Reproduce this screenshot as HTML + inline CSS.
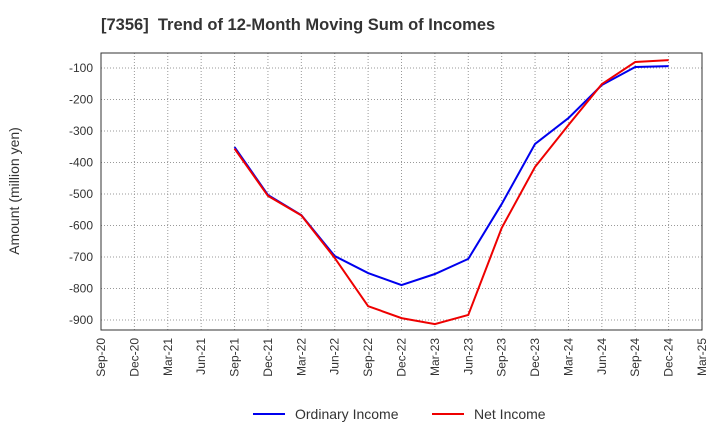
<!DOCTYPE html>
<html><head><meta charset="utf-8"><style>
body{margin:0;background:#fff;font-family:"Liberation Sans",sans-serif;}
</style></head><body>
<svg id="chart" width="720" height="440" xmlns="http://www.w3.org/2000/svg" font-family="Liberation Sans, sans-serif">
<text x="101" y="30" font-size="16.5" font-weight="bold" fill="#333" xml:space="preserve">[7356]  Trend of 12-Month Moving Sum of Incomes</text>
<text transform="translate(19,191) rotate(-90)" text-anchor="middle" font-size="14" fill="#333">Amount (million yen)</text>
<g id="grid"></g><g id="axes"></g><g id="series"></g>
<g>
<line x1="253" y1="414" x2="285" y2="414" stroke="#0000ee" stroke-width="2"/>
<text x="295" y="419" font-size="14" fill="#333">Ordinary Income</text>
<line x1="432" y1="414" x2="464" y2="414" stroke="#ee0000" stroke-width="2"/>
<text x="474" y="419" font-size="14" fill="#333">Net Income</text>
</g>
</svg>
<script>
const categories=["Sep-20","Dec-20","Mar-21","Jun-21","Sep-21","Dec-21","Mar-22","Jun-22","Sep-22","Dec-22","Mar-23","Jun-23","Sep-23","Dec-23","Mar-24","Jun-24","Sep-24","Dec-24","Mar-25"];
const yTicks=[-100,-200,-300,-400,-500,-600,-700,-800,-900];
const ordinaryIncome=[null,null,null,null,-351,-503,-567,-697,-751,-789,-754,-706,-532,-341,-259,-154,-97,-94,null];
const netIncome=[null,null,null,null,-356,-506,-568,-703,-856,-894,-913,-884,-608,-414,-281,-151,-81,-75,null];
const L=101,R=702,T=53,B=330;
const x=i=>L+(R-L)*i/(categories.length-1);
const y=v=>68+(-100-v)*0.315;
const NS="http://www.w3.org/2000/svg";
function mk(tag,attrs,parent){const e=document.createElementNS(NS,tag);for(const k in attrs)e.setAttribute(k,attrs[k]);document.getElementById(parent).appendChild(e);return e;}
categories.forEach((c,i)=>{
 const g=mk('line',{x1:x(i),x2:x(i),y1:T,y2:B,stroke:'#999','stroke-dasharray':'1,2','stroke-width':1},'grid');
 
 
 const t=mk('text',{transform:`translate(${x(i)+4},${B+8}) rotate(-90)`,'text-anchor':'end','font-size':12,fill:'#333'},'axes');
 t.textContent=c;
 
 
});
yTicks.forEach(v=>{
 const g=mk('line',{x1:L,x2:R,y1:y(v),y2:y(v),stroke:'#999','stroke-dasharray':'1,2','stroke-width':1},'grid');
 
 
 const t=mk('text',{x:L-8,y:y(v)+4,'text-anchor':'end','font-size':12,fill:'#333'},'axes');
 t.textContent=v;
 
 
});
const frame=mk('rect',{x:L,y:T,width:R-L,height:B-T,fill:'none',stroke:'#333','stroke-width':1},'axes');


function line(data,color,name){
 const pts=[];data.forEach((v,i)=>{if(v!==null)pts.push(x(i)+','+y(v));});
 const p=mk('polyline',{points:pts.join(' '),fill:'none',stroke:color,'stroke-width':2},'series');
 
 
}
line(ordinaryIncome,'#0000ee','ordinary-income-line');
line(netIncome,'#ee0000','net-income-line');
</script>
</body></html>
